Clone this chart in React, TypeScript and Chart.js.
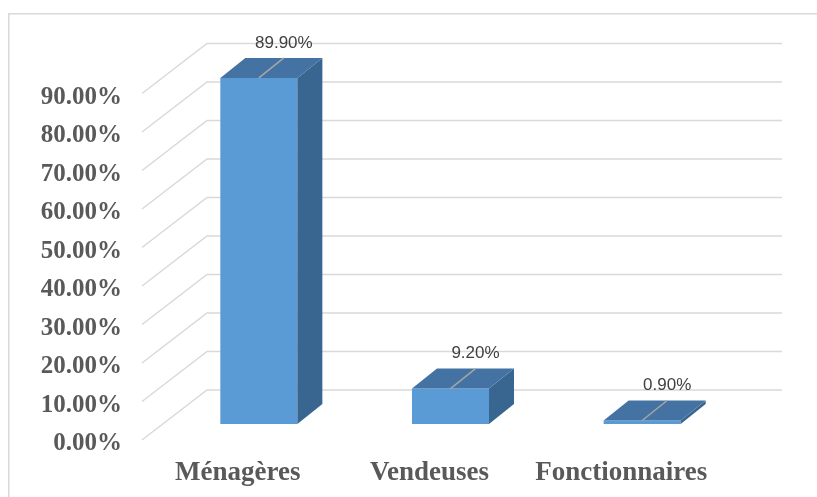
import React, { useEffect, useRef } from "react";
import { Chart, registerables } from "chart.js";

Chart.register(...registerables);

const categories = ["Ménagères", "Vendeuses", "Fonctionnaires"];
const shares = [89.9, 9.2, 0.9];
const dataLabels = ["89.90%", "9.20%", "0.90%"];
const tickValues = [0, 10, 20, 30, 40, 50, 60, 70, 80, 90];
const tickLabels = ["0.00%", "10.00%", "20.00%", "30.00%", "40.00%", "50.00%", "60.00%", "70.00%", "80.00%", "90.00%"];

const W = 817;
const H = 497;

// 3D geometry
const WALL_DX = 65;
const WALL_DY = -50;
const FRONT_DX = 21;
const FRONT_DY = -16;
const DEPTH_DX = 25;
const DEPTH_DY = -20;

const GRID = "#D9D9D9";
const AXIS_TEXT = "#595959";

const threeD = {
  id: "threeD",
  beforeDatasetsDraw(chart: any) {
    const ctx = chart.ctx;
    const area = chart.chartArea;
    const y = chart.scales.y;
    const x = chart.scales.x;
    ctx.save();
    // outer border
    ctx.strokeStyle = GRID;
    ctx.lineWidth = 1.5;
    ctx.beginPath();
    ctx.moveTo(8.75, H);
    ctx.lineTo(8.75, 13.75);
    ctx.lineTo(W, 13.75);
    ctx.stroke();

    // back wall gridlines + diagonals
    ctx.lineWidth = 1.5;
    ctx.strokeStyle = GRID;
    tickValues.forEach((v) => {
      const py = y.getPixelForValue(v);
      ctx.beginPath();
      ctx.moveTo(area.left, py);
      ctx.lineTo(area.left + WALL_DX, py + WALL_DY);
      ctx.lineTo(area.right + WALL_DX, py + WALL_DY);
      ctx.stroke();
    });

    // y tick labels
    ctx.fillStyle = AXIS_TEXT;
    ctx.font = "bold 25px 'Liberation Serif', 'Times New Roman', serif";
    ctx.textAlign = "right";
    ctx.textBaseline = "alphabetic";
    tickValues.forEach((v, i) => {
      const py = y.getPixelForValue(v);
      ctx.fillText(tickLabels[i], area.left - 20, py + 10);
    });

    // category labels
    ctx.font = "bold 27px 'Liberation Serif', 'Times New Roman', serif";
    ctx.textAlign = "center";
    categories.forEach((c, i) => {
      ctx.fillText(c, x.getPixelForValue(i), 480);
    });
    ctx.restore();

    ctx.save();
    ctx.translate(FRONT_DX, FRONT_DY);
  },
  afterDatasetsDraw(chart: any) {
    const ctx = chart.ctx;
    ctx.restore();
    const meta = chart.getDatasetMeta(0);
    ctx.save();
    meta.data.forEach((bar: any, i: number) => {
      const p = bar.getProps(["x", "y", "base", "width"], true);
      const x0 = p.x - p.width / 2 + FRONT_DX;
      const x1 = p.x + p.width / 2 + FRONT_DX;
      const yt = p.y + FRONT_DY;
      const yb = p.base + FRONT_DY;
      // side face
      ctx.fillStyle = "#386690";
      ctx.beginPath();
      ctx.moveTo(x1, yt);
      ctx.lineTo(x1 + DEPTH_DX, yt + DEPTH_DY);
      ctx.lineTo(x1 + DEPTH_DX, yb + DEPTH_DY);
      ctx.lineTo(x1, yb);
      ctx.closePath();
      ctx.fill();
      // top face
      ctx.fillStyle = "#4473A3";
      ctx.beginPath();
      ctx.moveTo(x0, yt);
      ctx.lineTo(x1, yt);
      ctx.lineTo(x1 + DEPTH_DX, yt + DEPTH_DY);
      ctx.lineTo(x0 + DEPTH_DX, yt + DEPTH_DY);
      ctx.closePath();
      ctx.fill();
      // leader line
      const cx = p.x + FRONT_DX;
      ctx.strokeStyle = "#A6A6A6";
      ctx.lineWidth = 1.5;
      ctx.beginPath();
      ctx.moveTo(cx, yt);
      ctx.lineTo(cx + DEPTH_DX, yt + DEPTH_DY);
      ctx.stroke();
      // data label
      ctx.fillStyle = "#404040";
      ctx.font = "17px 'Liberation Sans', Arial, sans-serif";
      ctx.textAlign = "center";
      ctx.textBaseline = "middle";
      ctx.fillText(dataLabels[i], cx + DEPTH_DX, yt + DEPTH_DY - 15);
    });
    ctx.restore();
  },
};

export default function App() {
  const ref = useRef<HTMLCanvasElement | null>(null);
  useEffect(() => {
    if (!ref.current) return;
    const chart = new Chart(ref.current, {
      type: "bar",
      data: {
        labels: categories,
        datasets: [
          {
            data: shares,
            backgroundColor: "#5B9BD5",
            borderWidth: 0,
            barPercentage: 0.402,
            categoryPercentage: 1,
            clip: false as any,
          },
        ],
      },
      options: {
        animation: false,
        responsive: false,
        devicePixelRatio: 1,
        layout: { padding: { left: 142, right: W - 717, top: 93.5, bottom: H - 440 } },
        scales: {
          x: { display: false, offset: true },
          y: { display: false, min: 0, max: 90 },
        },
        plugins: {
          legend: { display: false },
          tooltip: { enabled: false },
        },
      },
      plugins: [threeD],
    });
    return () => chart.destroy();
  }, []);
  return (
    <div style={{ position: "fixed", left: 0, top: 0, width: W, height: H, background: "#fff" }}>
      <canvas ref={ref} width={W} height={H} style={{ width: W, height: H, display: "block" }} />
    </div>
  );
}
